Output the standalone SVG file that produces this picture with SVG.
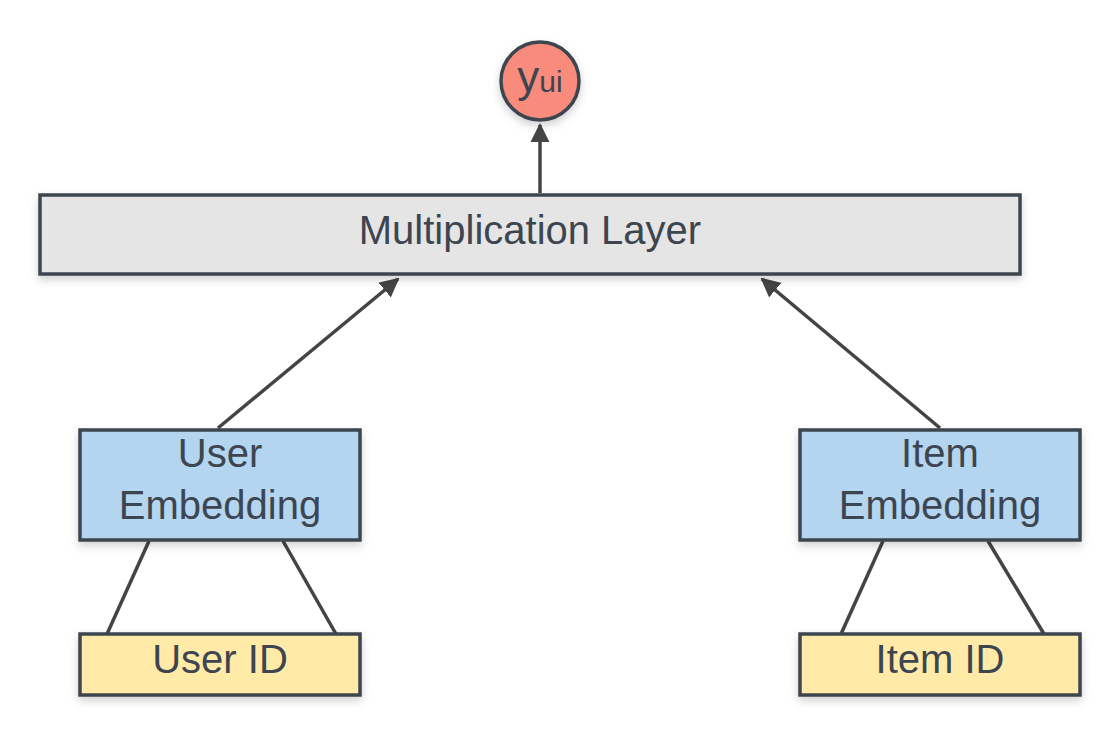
<svg xmlns="http://www.w3.org/2000/svg" width="1120" height="735" viewBox="0 0 1120 735">
<defs>
<filter id="sh" x="-10%" y="-20%" width="120%" height="150%">
<feDropShadow dx="0" dy="4" stdDeviation="4" flood-color="#000" flood-opacity="0.18"/>
</filter>
<marker id="ah" viewBox="0 0 10 10" refX="9" refY="5" markerWidth="5.5" markerHeight="5.5" orient="auto" markerUnits="strokeWidth">
<path d="M0,0 L10,5 L0,10 z" fill="#444"/>
</marker>
<style>
.box{stroke:#3d4550;stroke-width:3.5;filter:url(#sh)}
.t{font-family:"Liberation Sans",Arial,sans-serif;font-size:40px;fill:#3d4550;text-anchor:middle}
.c{stroke:#444;stroke-width:3.5;fill:none}
</style>
</defs>
<rect width="1120" height="735" fill="#fff"/>
<g id="connectors">
<line class="c" x1="540" y1="193" x2="540" y2="125" marker-end="url(#ah)"/>
<line class="c" x1="218" y1="428" x2="398" y2="279" marker-end="url(#ah)"/>
<line class="c" x1="940" y1="428" x2="762" y2="279" marker-end="url(#ah)"/>
<line class="c" x1="149" y1="541" x2="107" y2="634"/>
<line class="c" x1="283" y1="541" x2="336" y2="634"/>
<line class="c" x1="883" y1="541" x2="841" y2="634"/>
<line class="c" x1="988" y1="541" x2="1044" y2="634"/>
</g>
<g id="yui">
<circle class="box" cx="540" cy="81" r="39" fill="#f98b7d"/>
<text class="t" x="540" y="92"><tspan font-size="44">y</tspan><tspan font-size="30">ui</tspan></text>
</g>
<g id="mult">
<rect class="box" x="40" y="195" width="980" height="79" fill="#e5e5e5"/>
<text class="t" x="530" y="244">Multiplication Layer</text>
</g>
<g id="userEmb">
<rect class="box" x="80" y="430" width="280" height="110" fill="#b3d5ef"/>
<text class="t" x="220" y="467">User</text>
<text class="t" x="220" y="519">Embedding</text>
</g>
<g id="itemEmb">
<rect class="box" x="800" y="430" width="280" height="110" fill="#b3d5ef"/>
<text class="t" x="940" y="467">Item</text>
<text class="t" x="940" y="519">Embedding</text>
</g>
<g id="userId">
<rect class="box" x="80" y="634" width="280" height="61" fill="#ffeaa8"/>
<text class="t" x="220" y="673">User ID</text>
</g>
<g id="itemId">
<rect class="box" x="800" y="634" width="280" height="61" fill="#ffeaa8"/>
<text class="t" x="940" y="673">Item ID</text>
</g>
</svg>
